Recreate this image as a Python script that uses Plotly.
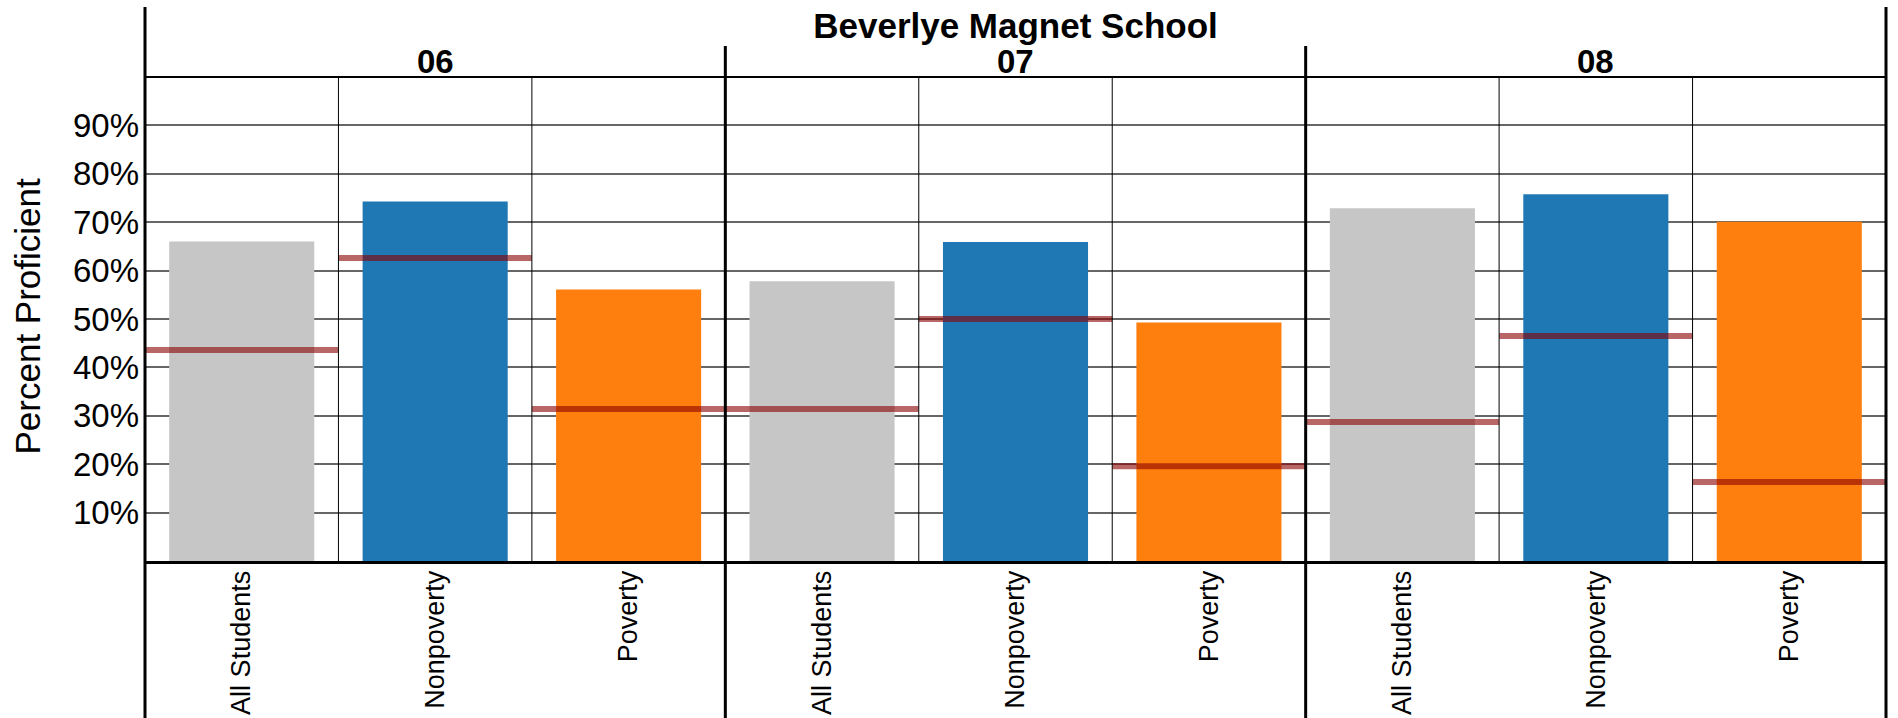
import plotly.graph_objects as go
from plotly.subplots import make_subplots

school = "Beverlye Magnet School"
grades = ["06", "07", "08"]
groups = ["All Students", "Nonpoverty", "Poverty"]
bar_colors = ["#c6c6c6", "#1f77b4", "#ff7f0e"]

# Percent proficient (bars), per grade
pct_06 = [66.0, 74.3, 56.1]
pct_07 = [57.8, 65.9, 49.3]
pct_08 = [72.9, 75.8, 70.1]
# Reference markers (dark red lines), per grade
ref_06 = [43.6, 62.6, 31.4]
ref_07 = [31.4, 50.0, 19.6]
ref_08 = [28.7, 46.5, 16.3]

y_ticks = [10, 20, 30, 40, 50, 60, 70, 80, 90]
y_tick_labels = ["10%", "20%", "30%", "40%", "50%", "60%", "70%", "80%", "90%"]

pct_by_grade = [pct_06, pct_07, pct_08]
ref_by_grade = [ref_06, ref_07, ref_08]

FONT = "Liberation Sans, Arial, sans-serif"
W, H = 1898, 718
ML, MR, MT, MB = 145, 12, 77, 157
plot_h = H - MT - MB


def py(pixel_y):
    """Convert a pixel row of the page into paper y."""
    return (H - MB - pixel_y) / plot_h


fig = make_subplots(rows=1, cols=3, shared_yaxes=True, horizontal_spacing=0)

for gi, (pcts, refs) in enumerate(zip(pct_by_grade, ref_by_grade)):
    col = gi + 1
    xpos = list(range(len(groups)))
    fig.add_trace(
        go.Bar(
            x=xpos,
            y=pcts,
            width=0.75,
            marker=dict(color=bar_colors, line=dict(width=0)),
            showlegend=False,
            hovertext=groups,
        ),
        row=1, col=col,
    )
    lx, ly = [], []
    for i, r in enumerate(refs):
        lx += [i - 0.5, i + 0.5, None]
        ly += [r, r, None]
    fig.add_trace(
        go.Scatter(
            x=lx, y=ly, mode="lines",
            line=dict(color="rgba(139,0,0,0.6)", width=6),
            showlegend=False, hoverinfo="skip",
        ),
        row=1, col=col,
    )
    xname = "x" if col == 1 else f"x{col}"
    # thin category dividers inside the group
    for i in range(1, len(groups)):
        fig.add_shape(
            type="line", xref=xname, yref="paper",
            x0=i - 0.5, x1=i - 0.5, y0=0, y1=1,
            line=dict(color="black", width=1),
        )
    # group header
    fig.add_annotation(
        text=f"<b>{grades[gi]}</b>", xref=f"{xname} domain", yref="paper",
        x=0.5, y=py(61), xanchor="center", yanchor="middle",
        showarrow=False, font=dict(family=FONT, size=33, color="black"),
    )

fig.update_xaxes(
    range=[-0.5, len(groups) - 0.5],
    tickmode="array", tickvals=list(range(len(groups))), ticktext=groups,
    tickangle=-90, tickfont=dict(family=FONT, size=27, color="black"),
    showgrid=False, zeroline=False,
    showline=True, linecolor="black", linewidth=3,
    ticks="", fixedrange=True, automargin=False, ticklabelstandoff=-4,
)
fig.update_yaxes(
    range=[0, 100],
    tickmode="array", tickvals=y_ticks, ticktext=y_tick_labels,
    tickfont=dict(family=FONT, size=33, color="black"),
    showgrid=True, gridcolor="#666666", gridwidth=2,
    zeroline=False, showline=False, ticks="", fixedrange=True,
    automargin=False, ticklabelstandoff=5,
)

# structural frame lines
for xp, ytop in [(0, 7), (1, 7), (1 / 3, 46), (2 / 3, 46)]:
    fig.add_shape(
        type="line", xref="paper", yref="paper",
        x0=xp, x1=xp, y0=py(H), y1=py(ytop),
        line=dict(color="black", width=3),
    )
fig.add_shape(
    type="line", xref="paper", yref="paper",
    x0=0, x1=1, y0=1, y1=1, line=dict(color="black", width=2),
)

# y-axis title
fig.add_annotation(
    text="Percent Proficient", xref="paper", yref="paper",
    x=-(ML - 26.5) / (W - ML - MR), y=py(316), xanchor="center", yanchor="middle",
    textangle=-90, showarrow=False,
    font=dict(family=FONT, size=35, color="black"),
)

fig.update_layout(
    width=W, height=H, autosize=False,
    margin=dict(l=ML, r=MR, t=MT, b=MB, pad=0, autoexpand=False),
    paper_bgcolor="white", plot_bgcolor="white",
    bargap=0.25,
    title=dict(
        text=f"<b>{school}</b>", x=(ML + (W - ML - MR) / 2) / W, xanchor="center",
        y=1 - 26 / H, yanchor="middle",
        font=dict(family=FONT, size=35, color="black"),
        automargin=False,
    ),
    showlegend=False,
)

fig.write_html(
    "out.html",
    config={"displayModeBar": False},
    post_script="document.body.style.margin='0';document.body.style.overflow='hidden';",
)
